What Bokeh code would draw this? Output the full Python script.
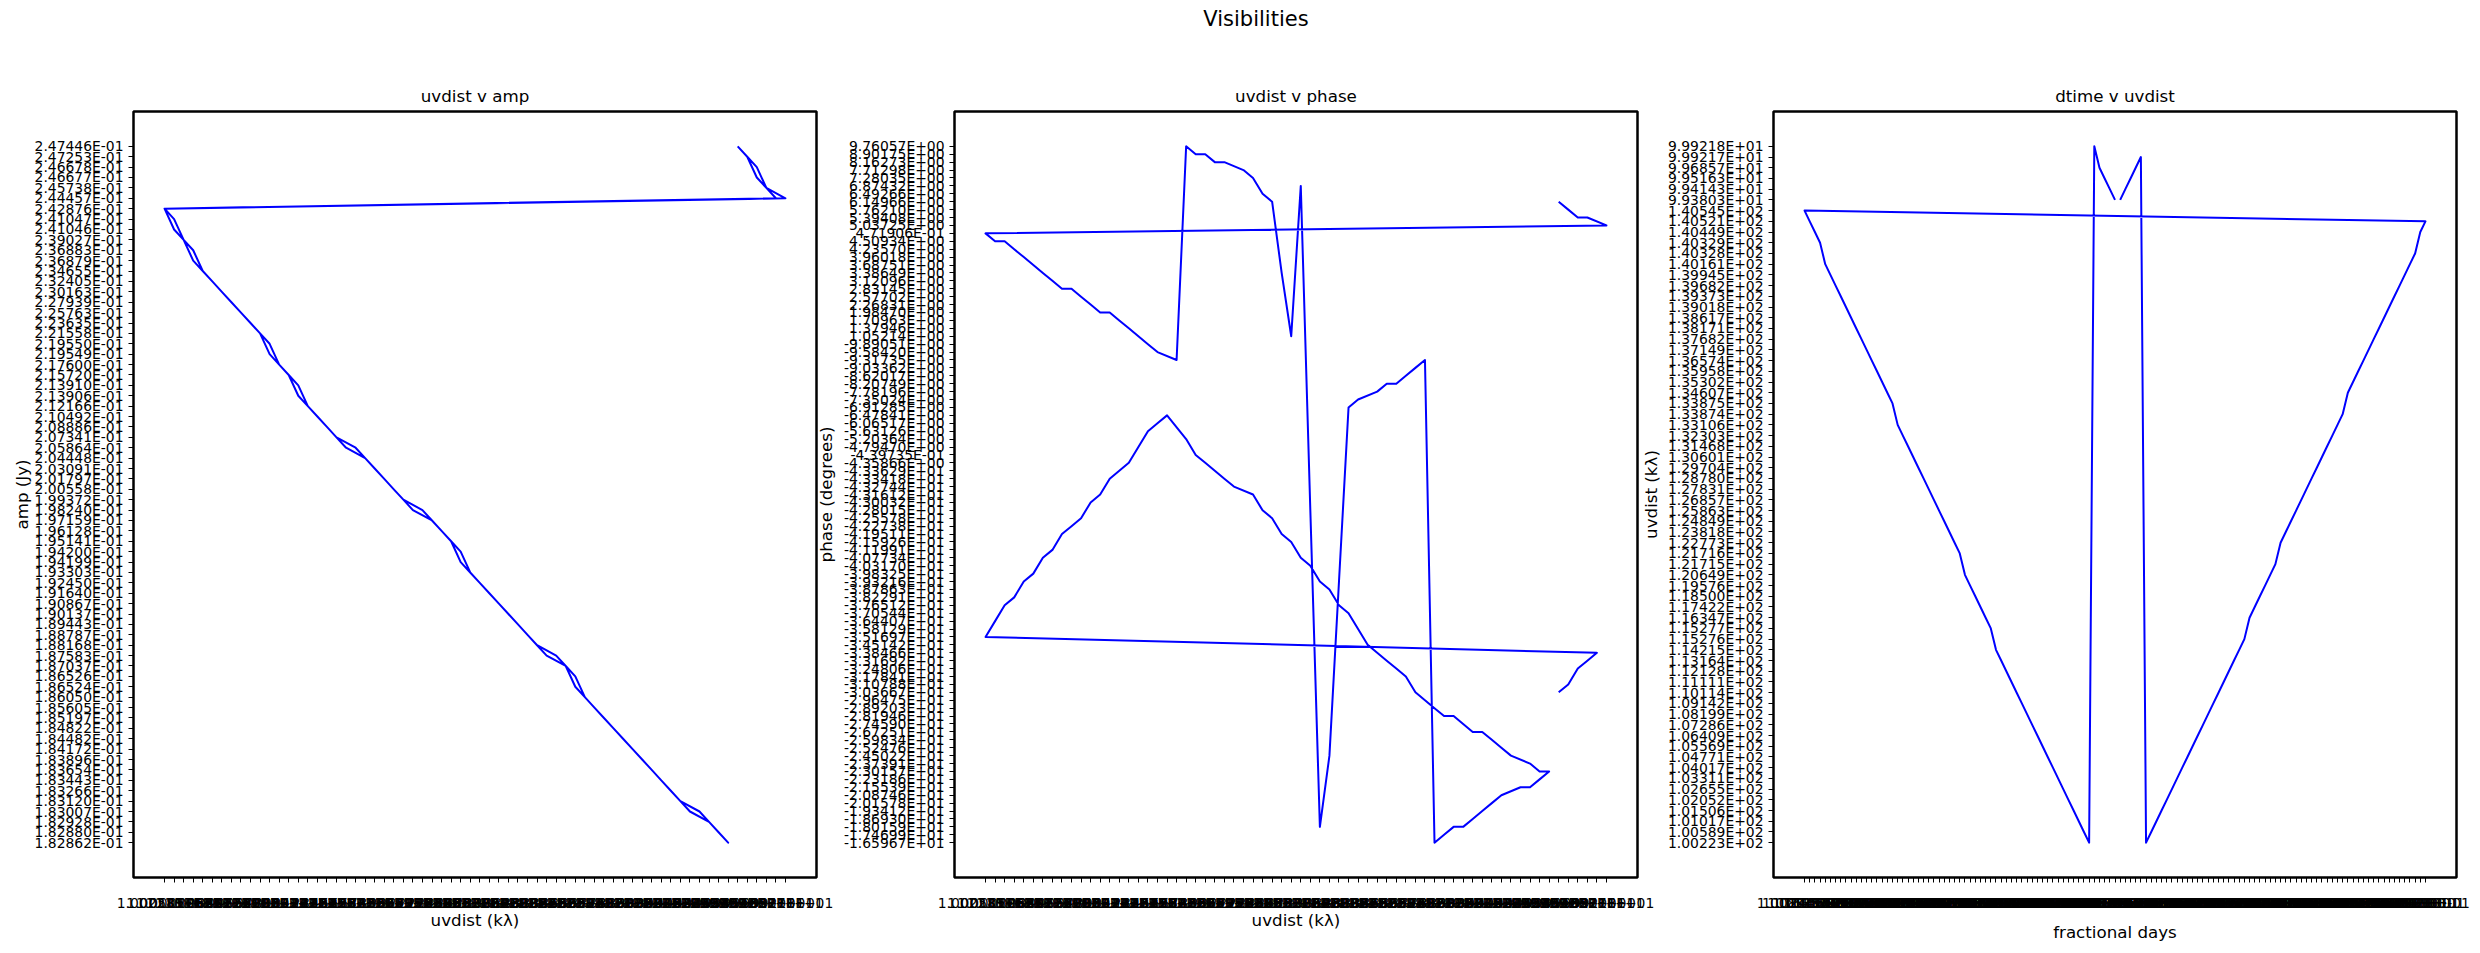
from bokeh.plotting import figure
from bokeh.models import FactorRange, Div
from bokeh.layouts import row, column
from bokeh.embed import file_html
from bokeh.resources import INLINE

# ---------------- data (one entry per visibility sample, in time order) ----------------
time_days = [
    0.50944, 0.51775, 0.52606, 0.53437, 0.54268, 0.55099, 0.55930, 0.56761, 0.57592, 0.58423,
    0.59254, 0.60085, 0.60916, 0.61747, 0.62578, 0.63409, 0.64240, 0.65071, 0.65902, 0.66733,
    0.67564, 0.68395, 0.69226, 0.70057, 0.70888, 0.71719, 0.72550, 0.73381, 0.74212, 0.75043,
    0.75874, 0.76705, 0.77536, 0.78367, 0.79198, 0.80029, 0.80860, 0.81691, 0.82522, 0.83353,
    0.84184, 0.85015, 0.85846, 0.86677, 0.87508, 0.88339, 0.89170, 0.90001, 0.90832, 0.91663,
    0.92494, 0.93325, 0.94156, 0.94987, 0.95818, 0.96649, 0.97480, 0.98311, 0.99142, 0.99973,
    1.00804, 1.01635, 1.02466, 1.03297, 1.04128, 1.04959, 1.05790, 1.06621, 1.07452, 1.08283,
    1.09114, 1.09945, 1.10776, 1.11607, 1.12438, 1.13269, 1.14100, 1.14931, 1.15762, 1.16593,
    1.17424, 1.18255, 1.19086, 1.19917, 1.20748, 1.21579, 1.22410, 1.23241, 1.24072, 1.24903,
    1.25734, 1.26565, 1.27396, 1.28227, 1.29058, 1.29889, 1.30720, 1.31551, 1.32382, 1.33213,
    1.34044, 1.34875, 1.35706, 1.36537, 1.37368, 1.38199, 1.39030, 1.39861, 1.40692, 1.41523,
    1.42354, 1.43185, 1.44016, 1.44847, 1.45678, 1.46509, 1.47340, 1.48171, 1.49002, 1.49833,
    1.50664,
]

uvdist_kl = [
    99.3803, 99.4143, 99.5163, 99.6857, 99.9217, 100.223, 100.589, 101.017, 101.506, 102.052,
    102.655, 103.311, 104.017, 104.771, 105.569, 106.409, 107.286, 108.199, 109.142, 110.114,
    111.111, 112.128, 113.164, 114.215, 115.276, 116.347, 117.422, 118.500, 119.576, 120.649,
    121.715, 122.773, 123.818, 124.849, 125.863, 126.857, 127.831, 128.780, 129.704, 130.601,
    131.468, 132.303, 133.106, 133.874, 134.607, 135.302, 135.958, 136.574, 137.149, 137.682,
    138.171, 138.617, 139.018, 139.373, 139.682, 139.945, 140.161, 140.328, 140.449, 140.521,
    140.545, 140.521, 140.449, 140.329, 140.161, 139.945, 139.682, 139.373, 139.018, 138.617,
    138.171, 137.682, 137.149, 136.574, 135.958, 135.302, 134.607, 133.875, 133.106, 132.303,
    131.468, 130.601, 129.704, 128.780, 127.831, 126.857, 125.863, 124.849, 123.818, 122.773,
    121.716, 120.649, 119.576, 118.500, 117.422, 116.347, 115.277, 114.215, 113.164, 112.128,
    111.111, 110.114, 109.142, 108.199, 107.286, 106.409, 105.569, 104.771, 104.017, 103.311,
    102.655, 102.052, 101.506, 101.017, 100.589, 100.223, 99.9218, 99.6857, 99.5163, 99.4143,
    99.3803,
]

amp_jy = [
    0.247446, 0.247253, 0.246677, 0.245738, 0.244457, 0.242876, 0.241047, 0.239027, 0.236883, 0.234655,
    0.232405, 0.230163, 0.227939, 0.225763, 0.223635, 0.221558, 0.219550, 0.217600, 0.215720, 0.213910,
    0.212166, 0.210492, 0.208886, 0.207341, 0.205864, 0.204448, 0.203091, 0.201797, 0.200558, 0.199372,
    0.198240, 0.197159, 0.196128, 0.195141, 0.194200, 0.193303, 0.192450, 0.191640, 0.190867, 0.190137,
    0.189443, 0.188787, 0.188168, 0.187583, 0.187037, 0.186526, 0.186050, 0.185605, 0.185197, 0.184822,
    0.184482, 0.184172, 0.183896, 0.183654, 0.183443, 0.183266, 0.183120, 0.183007, 0.182928, 0.182880,
    0.182862, 0.182880, 0.182928, 0.183007, 0.183120, 0.183266, 0.183443, 0.183654, 0.183896, 0.184172,
    0.184482, 0.184822, 0.185197, 0.185605, 0.186050, 0.186524, 0.187037, 0.187583, 0.188168, 0.188787,
    0.189443, 0.190137, 0.190867, 0.191640, 0.192450, 0.193303, 0.194199, 0.195141, 0.196128, 0.197159,
    0.198240, 0.199372, 0.200558, 0.201797, 0.203091, 0.204448, 0.205864, 0.207341, 0.208886, 0.210492,
    0.212166, 0.213906, 0.215720, 0.217600, 0.219549, 0.221558, 0.223635, 0.225763, 0.227939, 0.230163,
    0.232405, 0.234655, 0.236879, 0.239027, 0.241046, 0.242876, 0.244457, 0.245738, 0.246678, 0.247253,
    0.247446,
]

phase_deg = [
    -30.3667, -31.0788, -32.4806, -33.1692, -33.8466, -35.1697, -36.4407, -37.6512, -38.2291, -39.3216,
    -39.8325, -40.7734, -41.1991, -41.9511, -42.2738, -42.5578, -43.0032, -43.1612, -43.3418, -43.3629,
    -4.35866, -4.79470, -5.63126, -6.06517, -6.47841, -5.20364, -0.439735, -4.35866, -43.3629, -43.3418,
    -43.2744, -43.1612, -42.8015, -42.5578, -41.9511, -41.5926, -40.7734, -40.3170, -39.3216, -38.7863,
    -37.6512, -37.0544, -35.8129, -34.5142, -33.1692, -32.4806, -31.7841, -30.3667, -29.6475, -28.9203,
    -28.1946, -28.1946, -27.4590, -26.7251, -26.7251, -25.9834, -25.2476, -24.5022, -23.7391, -23.0157,
    -23.0157, -22.3186, -21.5539, -21.5539, -20.8746, -20.1578, -19.3412, -18.6930, -18.0159, -18.0159,
    -17.4699, -16.5967, -9.31735, -9.03362, -8.62017, -8.20749, -8.20749, -7.78196, -7.35024, -6.91285,
    -39.3216, -24.5022, -18.0159, -42.8015, 6.87432, 1.05214, 3.38649, 6.14966, 6.49266, 7.28035,
    7.71298, 8.16273, 8.16273, 8.90175, 8.90175, 9.76057, -9.31735, -9.58420, -9.89051, 1.05214,
    1.37946, 1.70963, 1.98470, 1.98470, 2.26831, 2.57702, 2.83145, 2.83145, 3.12096, 3.38649,
    3.68751, 3.96018, 4.23570, 4.50934, 4.50934, 0.471906, 5.03725, 5.39408, 5.39408, 5.76210,
    6.14966,
]

# values are plotted as text categories, as in the original
def as_text(vals):
    return ["%.5E" % v for v in vals]

t_txt = as_text(time_days)
uv_txt = as_text(uvdist_kl)
amp_txt = as_text(amp_jy)
ph_txt = as_text(phase_deg)


def cat_range(vals):
    factors = sorted(set(vals))
    n = len(factors)
    # 5% margin of the category span on each side
    return FactorRange(factors=factors, range_padding=0.05 * (n - 1) - 0.5,
                       range_padding_units="absolute")


FONT = "DejaVu Sans"
TOP = 73  # space above frames inside each figure (a 38 px title strip sits above)


def make_panel(title, xs, ys, xlabel, ylabel, left, right, ylab_standoff, xlab_standoff,
               overlap, fill):
    p = figure(x_range=cat_range(xs), y_range=cat_range(ys),
               frame_width=683, frame_height=766,
               min_border_left=left, min_border_right=right,
               min_border_top=TOP, min_border_bottom=76,
               output_backend="svg", toolbar_location=None, title=title,
               background_fill_color="white", border_fill_color=fill,
               margin=(0, 0, 0, -overlap))
    p.line(xs, ys, line_color="#0000ff", line_width=2, line_join="round")
    p.outline_line_color = "black"
    p.outline_line_width = 2.5
    p.xgrid.visible = False
    p.ygrid.visible = False
    p.title.align = "center"
    p.title.text_font = FONT
    p.title.text_font_size = "16.7px"
    p.title.text_font_style = "normal"
    p.title.text_color = "black"
    p.title.standoff = 12
    for ax in (p.xaxis[0], p.yaxis[0]):
        ax.axis_line_color = None
        ax.major_tick_out = 5
        ax.major_tick_in = 0
        ax.major_tick_line_color = "black"
        ax.major_tick_line_width = 1
        ax.major_label_text_font = FONT
        ax.major_label_text_font_size = "13.9px"
        ax.major_label_text_color = "black"
        ax.major_label_standoff = 5
        ax.major_label_orientation = "horizontal"
        ax.axis_label_text_font = FONT
        ax.axis_label_text_font_size = "16.7px"
        ax.axis_label_text_font_style = "normal"
        ax.axis_label_text_color = "black"
    p.xaxis[0].major_label_standoff = 12
    p.xaxis[0].axis_label = xlabel
    p.yaxis[0].axis_label = ylabel
    p.yaxis[0].axis_label_standoff = ylab_standoff
    p.xaxis[0].axis_label_standoff = xlab_standoff
    return p


p1 = make_panel("uvdist v amp", uv_txt, amp_txt, "uvdist (kλ)", "amp (Jy)",
                133, 30, 0, -4, 0, "white")
p2 = make_panel("uvdist v phase", uv_txt, ph_txt, "uvdist (kλ)", "phase (degrees)",
                152, 30, 5, -4, 44, None)
p3 = make_panel("dtime v uvdist", t_txt, uv_txt, "fractional days", "uvdist (kλ)",
                152, 24, 4, 8, 46, None)

sup = Div(text="Visibilities", width=2480, height=38, margin=(0, 0, 0, 0),
          styles={"font-family": "DejaVu Sans", "font-size": "21px", "text-align": "center",
                  "line-height": "38px", "text-indent": "32px", "color": "black"})

layout = column(sup, row(p1, p2, p3))
open("out.html", "w").write(file_html(layout, INLINE))
